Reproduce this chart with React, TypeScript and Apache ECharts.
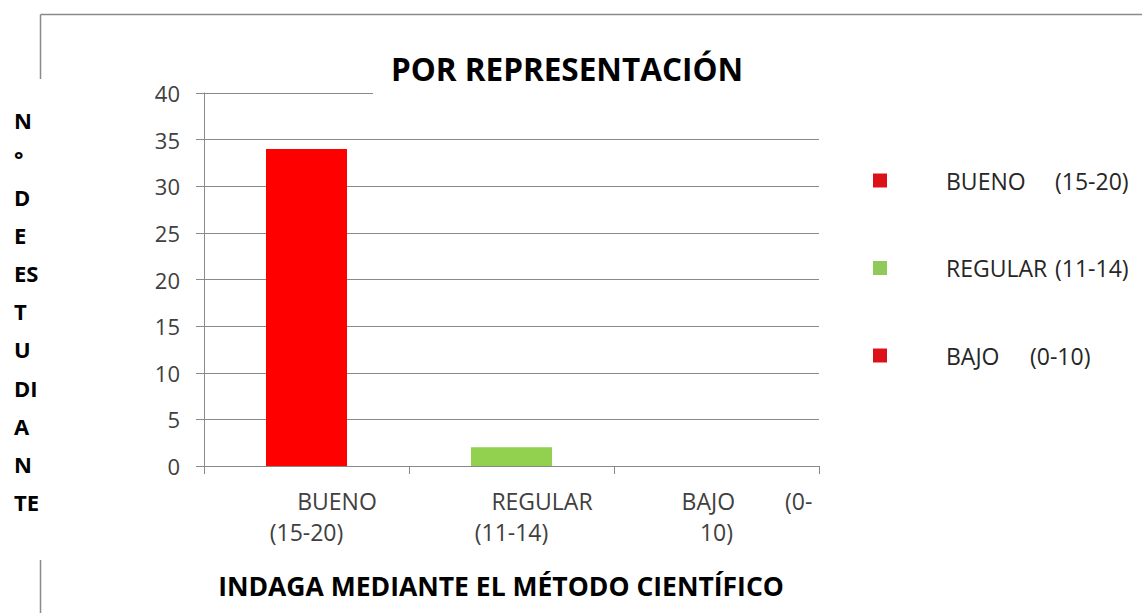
import React, { useEffect, useRef } from "react";
import * as echarts from "echarts";

const categories = ["BUENO (15-20)", "REGULAR (11-14)", "BAJO (0-10)"];
const seriesNames = ["BUENO", "REGULAR", "BAJO"];
const values = [34, 2, 0];
const ranges = ["(15-20)", "(11-14)", "(0-10)"];
const barColors = ["#FF0000", "#92D050", "#FF0000"];
const legendColors = ["#DC1218", "#8FC95A", "#DC1218"];
const yTicks = { min: 0, max: 40, interval: 5 };
const titleText = "POR REPRESENTACIÓN";
const xTitleText = "INDAGA MEDIANTE EL MÉTODO CIENTÍFICO";
const yTitleLines = ["N", "°", "D", "E", "ES", "T", "U", "DI", "A", "N", "TE"];
// wrapped category labels as they appear under the axis
const xLabelRich = [
  "{a|BUENO}\n{b|(15-20)}",
  "{a|REGULAR}\n{b|(11-14)}",
  "{a|BAJO}{g|(0-}\n{b|10)}",
];
const legendNameWidths = [109, 109, 84];

const FONT = "'Open Sans', 'Noto Sans', sans-serif";
const AXIS_COLOR = "#898989";
const TEXT_COLOR = "#404040";

export default function App() {
  const ref = useRef<HTMLDivElement>(null);
  useEffect(() => {
    if (!ref.current) return;
    const chart = echarts.init(ref.current, null, { renderer: "svg" });
    const richLegend: any = {
      r: { fontFamily: FONT, fontSize: 23, color: "#262626", lineHeight: 24 },
    };
    legendNameWidths.forEach((w, i) => {
      richLegend["n" + i] = {
        fontFamily: FONT,
        fontSize: 23,
        color: "#262626",
        lineHeight: 24,
        width: w,
        padding: [0, 0, 0, 54],
      };
    });
    const option: any = {
      animation: false,
      backgroundColor: "#ffffff",
      title: [
        {
          text: titleText,
          left: 567,
          top: 50,
          textAlign: "center",
          padding: 0,
          textStyle: {
            fontFamily: FONT,
            fontSize: 31.5,
            fontWeight: "bold",
            color: "#000",
            lineHeight: 36,
          },
        },
        {
          text: xTitleText,
          left: 501,
          top: 571,
          textAlign: "center",
          padding: 0,
          textStyle: {
            fontFamily: FONT,
            fontSize: 26.5,
            fontWeight: "bold",
            color: "#000",
            lineHeight: 30,
          },
        },
        {
          text: yTitleLines.join("\n"),
          left: 14,
          top: 101,
          padding: 0,
          textStyle: {
            fontFamily: FONT,
            fontSize: 22,
            fontWeight: "bold",
            color: "#000",
            lineHeight: 38.2,
          },
        },
      ],
      legend: {
        orient: "vertical",
        left: 868,
        top: 163.5,
        itemWidth: 14,
        itemHeight: 14,
        itemGap: 63.5,
        icon: "rect",
        data: seriesNames.map((n, i) => ({ name: n, itemStyle: { color: legendColors[i] } })),
        formatter: (name: string) => {
          const i = seriesNames.indexOf(name);
          return `{n${i}|${name}}{r|${ranges[i]}}`;
        },
        textStyle: {
          fontFamily: FONT,
          fontSize: 23,
          color: "#262626",
          lineHeight: 24,
          rich: richLegend,
        },
      },
      grid: { left: 204, right: 323, top: 93, bottom: 147, containLabel: false },
      xAxis: {
        type: "category",
        data: categories,
        axisLine: { show: true, lineStyle: { color: AXIS_COLOR, width: 1 } },
        axisTick: { show: true, length: 8, interval: 0, alignWithLabel: false, lineStyle: { color: AXIS_COLOR } },
        axisLabel: {
          interval: 0,
          margin: 19,
          formatter: (_v: string, idx: number) => xLabelRich[idx],
          rich: {
            a: { fontFamily: FONT, fontSize: 23, color: TEXT_COLOR, lineHeight: 31, padding: [0, 0, 0, 61] },
            b: { fontFamily: FONT, fontSize: 23, color: TEXT_COLOR, lineHeight: 31 },
            g: { fontFamily: FONT, fontSize: 23, color: TEXT_COLOR, lineHeight: 31, padding: [0, 0, 0, 50] },
          },
        },
        splitLine: { show: false },
      },
      yAxis: {
        type: "value",
        min: yTicks.min,
        max: yTicks.max,
        interval: yTicks.interval,
        axisLine: { show: true, lineStyle: { color: AXIS_COLOR, width: 1 } },
        axisTick: { show: true, length: 8, lineStyle: { color: AXIS_COLOR } },
        axisLabel: { margin: 24, fontFamily: FONT, fontSize: 22, color: TEXT_COLOR },
        splitLine: { show: true, lineStyle: { color: AXIS_COLOR, width: 1 } },
      },
      series: seriesNames.map((name, i) => ({
        name,
        type: "bar",
        stack: "total",
        barWidth: 81,
        itemStyle: { color: barColors[i] },
        data: categories.map((_c, j) => (j === i ? values[i] : "-")),
      })),
      graphic: [
        { type: "line", z: 50, shape: { x1: 40.5, y1: 14.5, x2: 1142, y2: 14.5 }, style: { stroke: "#8a8a8a", lineWidth: 1.5 } },
        { type: "line", z: 50, shape: { x1: 40.5, y1: 14.5, x2: 40.5, y2: 79 }, style: { stroke: "#8a8a8a", lineWidth: 1.5 } },
        { type: "line", z: 50, shape: { x1: 40.5, y1: 560, x2: 40.5, y2: 613 }, style: { stroke: "#8a8a8a", lineWidth: 1.5 } },
        { type: "rect", z: 50, shape: { x: 373, y: 88, width: 452, height: 10 }, style: { fill: "#ffffff" } },
      ],
    };
    chart.setOption(option);
    return () => chart.dispose();
  }, []);
  return (
    <div
      ref={ref}
      style={{ position: "fixed", left: 0, top: 0, width: 1142, height: 613, background: "#fff" }}
    />
  );
}
